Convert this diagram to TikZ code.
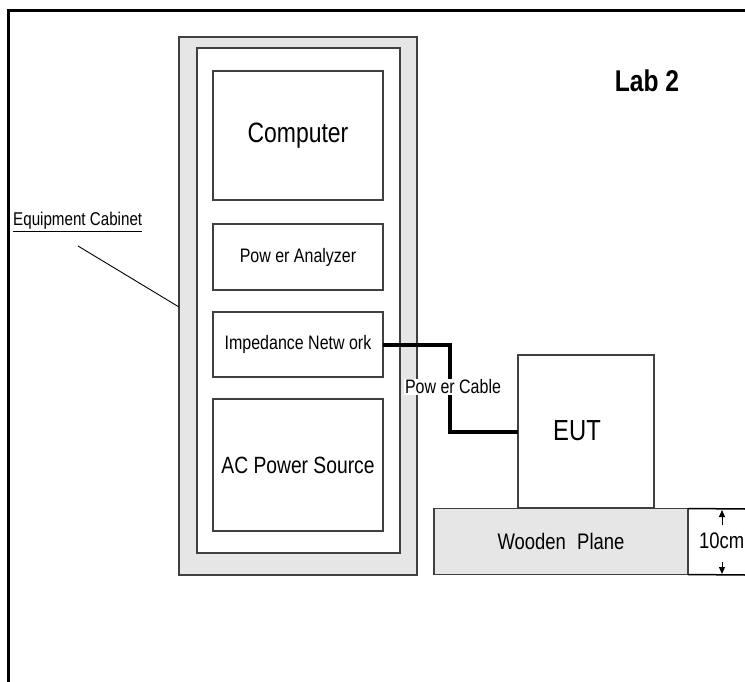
\documentclass[tikz,border=0pt]{standalone}
\usepackage{fontspec}
\setmainfont{Liberation Sans}[FakeStretch=0.82]
\usetikzlibrary{arrows.meta}
\definecolor{edge}{HTML}{404040}
\definecolor{panel}{HTML}{E6E6E6}
\newcommand{\fs}[1]{\fontsize{#1}{#1}\selectfont}
\tikzset{
  box/.style={draw=edge, line width=1.3pt, fill=white, inner sep=0pt, outer sep=0pt, align=center},
  cable/.style={line width=4pt, black},
  frameline/.style={line width=3pt, black},
  dimline/.style={line width=1.5pt, black},
  dimarrow/.style={line width=1pt, -{Triangle[length=7pt,width=6pt]}},
}
\begin{document}
\begin{tikzpicture}[x=1pt,y=-1pt]
\useasboundingbox (0,0) rectangle (745,682);
% outer frame
\draw[frameline] (8,682) -- (8,11) -- (745,11);
% equipment cabinet
\node[box, fill=panel, minimum width=238pt, minimum height=538pt] (cab) at (298,306) {};
\node[box, minimum width=203pt, minimum height=505pt] (cabin) at (298.5,300.5) {};
\node[box, minimum width=170pt, minimum height=129pt] (comp) at (298,135.5) {\fs{28}Computer};
\node[box, minimum width=170pt, minimum height=66pt] (pa) at (298,257) {\fs{19.5}Pow er Analyzer};
\node[box, minimum width=170pt, minimum height=65pt] (imp) at (298,344.5) {\fs{19.5}Impedance Netw ork};
\node[box, minimum width=170pt, minimum height=132pt] (ac) at (298,465) {\fs{23.5}AC Power Source};
% label
\node[anchor=south west, inner sep=0pt] (eqlab) at (13,232) {\fs{18.5}\underline{Equipment Cabinet}};
\coordinate (lead) at (78,246);
\draw[line width=0.9pt] (lead) -- (cab.west |- 0,307);
% Lab 2
\node (lab) at (647,81) {\fs{30}\bfseries Lab 2};
% wooden plane and EUT
\node[box, fill=panel, minimum width=254pt, minimum height=66pt] (wood) at (561,541.5) {\fs{22.5}Wooden\hspace{0.5em}Plane};
\node[box, minimum width=136pt, minimum height=153pt] (eut) at (586,431.5) {};
\node at (577,431) {\fs{29}EUT};
% cable
\coordinate (bend) at (450,400);
\draw[cable] (imp.east) -| (bend) |- (eut.west);
\node[fill=white, inner sep=1pt] (pclab) at (453,387) {\fs{19.5}Pow er Cable};
% 10cm dimension
\coordinate (dt) at (745,509);
\coordinate (db) at (745,575);
\draw[dimline] (wood.north east) -- (dt);
\draw[dimline] (wood.south east) -- (db);
\node[anchor=west, inner sep=0pt] (dimlab) at (699,541) {\fs{22.5}10cm};
\coordinate (a1s) at (722,525);
\coordinate (a1e) at (722,510);
\coordinate (a2s) at (722,562);
\coordinate (a2e) at (722,574);
\draw[dimarrow] (a1s) -- (a1e);
\draw[dimarrow] (a2s) -- (a2e);
\end{tikzpicture}
\end{document}
